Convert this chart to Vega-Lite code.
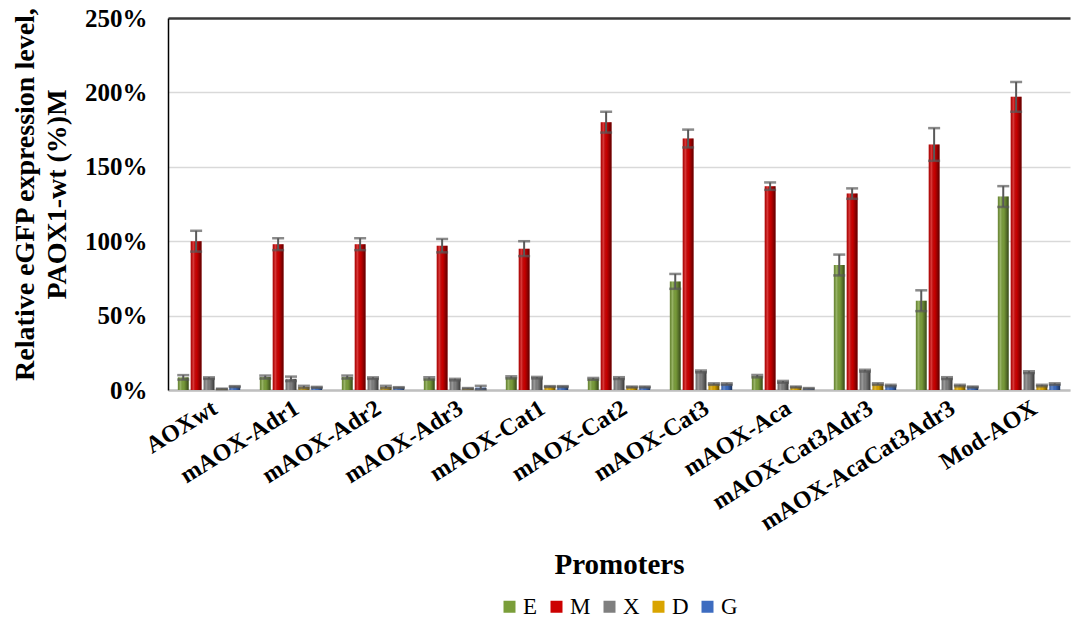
{
  "$schema": "https://vega.github.io/schema/vega-lite/v6.json",
  "autosize": {"type": "none"},
  "width": 902,
  "height": 372,
  "padding": {"left": 168, "top": 18, "right": 2, "bottom": 229},
  "background": "white",
  "config": {
    "view": {"stroke": null},
    "font": "Liberation Serif"
  },
  "data": {
    "values": [
      {"promoter": "AOXwt", "series": "E", "value": 8.5, "lo": 7.0, "hi": 10.0},
      {"promoter": "AOXwt", "series": "M", "value": 100, "lo": 93, "hi": 107},
      {"promoter": "AOXwt", "series": "X", "value": 8.0, "lo": 7.5, "hi": 8.5},
      {"promoter": "AOXwt", "series": "D", "value": 0.7, "lo": 0.5, "hi": 0.9},
      {"promoter": "AOXwt", "series": "G", "value": 2.3, "lo": 2.0, "hi": 2.6},

      {"promoter": "mAOX-Adr1", "series": "E", "value": 8.7, "lo": 7.7, "hi": 9.7},
      {"promoter": "mAOX-Adr1", "series": "M", "value": 98, "lo": 94, "hi": 102},
      {"promoter": "mAOX-Adr1", "series": "X", "value": 7.5, "lo": 6.0, "hi": 9.0},
      {"promoter": "mAOX-Adr1", "series": "D", "value": 2.0, "lo": 1.2, "hi": 2.8},
      {"promoter": "mAOX-Adr1", "series": "G", "value": 1.8, "lo": 1.5, "hi": 2.1},

      {"promoter": "mAOX-Adr2", "series": "E", "value": 8.7, "lo": 7.7, "hi": 9.7},
      {"promoter": "mAOX-Adr2", "series": "M", "value": 98, "lo": 94, "hi": 102},
      {"promoter": "mAOX-Adr2", "series": "X", "value": 8.0, "lo": 7.5, "hi": 8.5},
      {"promoter": "mAOX-Adr2", "series": "D", "value": 2.0, "lo": 1.2, "hi": 2.8},
      {"promoter": "mAOX-Adr2", "series": "G", "value": 1.6, "lo": 1.3, "hi": 1.9},

      {"promoter": "mAOX-Adr3", "series": "E", "value": 7.8, "lo": 7.1, "hi": 8.5},
      {"promoter": "mAOX-Adr3", "series": "M", "value": 97, "lo": 92.5, "hi": 101.5},
      {"promoter": "mAOX-Adr3", "series": "X", "value": 7.0, "lo": 6.5, "hi": 7.5},
      {"promoter": "mAOX-Adr3", "series": "D", "value": 1.0, "lo": 0.7, "hi": 1.3},
      {"promoter": "mAOX-Adr3", "series": "G", "value": 1.6, "lo": 0.4, "hi": 2.8},

      {"promoter": "mAOX-Cat1", "series": "E", "value": 8.5, "lo": 7.8, "hi": 9.2},
      {"promoter": "mAOX-Cat1", "series": "M", "value": 95, "lo": 90, "hi": 100},
      {"promoter": "mAOX-Cat1", "series": "X", "value": 8.3, "lo": 7.8, "hi": 8.8},
      {"promoter": "mAOX-Cat1", "series": "D", "value": 2.3, "lo": 2.0, "hi": 2.6},
      {"promoter": "mAOX-Cat1", "series": "G", "value": 2.3, "lo": 2.0, "hi": 2.6},

      {"promoter": "mAOX-Cat2", "series": "E", "value": 7.5, "lo": 6.9, "hi": 8.1},
      {"promoter": "mAOX-Cat2", "series": "M", "value": 180, "lo": 173, "hi": 187},
      {"promoter": "mAOX-Cat2", "series": "X", "value": 8.0, "lo": 7.4, "hi": 8.6},
      {"promoter": "mAOX-Cat2", "series": "D", "value": 2.0, "lo": 1.7, "hi": 2.3},
      {"promoter": "mAOX-Cat2", "series": "G", "value": 2.0, "lo": 1.7, "hi": 2.3},

      {"promoter": "mAOX-Cat3", "series": "E", "value": 73, "lo": 68, "hi": 78},
      {"promoter": "mAOX-Cat3", "series": "M", "value": 169, "lo": 163, "hi": 175},
      {"promoter": "mAOX-Cat3", "series": "X", "value": 12.5, "lo": 11.9, "hi": 13.1},
      {"promoter": "mAOX-Cat3", "series": "D", "value": 4.0, "lo": 3.5, "hi": 4.5},
      {"promoter": "mAOX-Cat3", "series": "G", "value": 4.0, "lo": 3.5, "hi": 4.5},

      {"promoter": "mAOX-Aca", "series": "E", "value": 9.3, "lo": 8.5, "hi": 10.1},
      {"promoter": "mAOX-Aca", "series": "M", "value": 137, "lo": 134.5, "hi": 139.5},
      {"promoter": "mAOX-Aca", "series": "X", "value": 5.5, "lo": 4.9, "hi": 6.1},
      {"promoter": "mAOX-Aca", "series": "D", "value": 2.0, "lo": 1.7, "hi": 2.3},
      {"promoter": "mAOX-Aca", "series": "G", "value": 1.0, "lo": 0.7, "hi": 1.3},

      {"promoter": "mAOX-Cat3Adr3", "series": "E", "value": 84, "lo": 77, "hi": 91},
      {"promoter": "mAOX-Cat3Adr3", "series": "M", "value": 132, "lo": 128.5, "hi": 135.5},
      {"promoter": "mAOX-Cat3Adr3", "series": "X", "value": 13.0, "lo": 12.4, "hi": 13.6},
      {"promoter": "mAOX-Cat3Adr3", "series": "D", "value": 4.0, "lo": 3.5, "hi": 4.5},
      {"promoter": "mAOX-Cat3Adr3", "series": "G", "value": 3.0, "lo": 2.5, "hi": 3.5},

      {"promoter": "mAOX-AcaCat3Adr3", "series": "E", "value": 60, "lo": 53, "hi": 67},
      {"promoter": "mAOX-AcaCat3Adr3", "series": "M", "value": 165, "lo": 154, "hi": 176},
      {"promoter": "mAOX-AcaCat3Adr3", "series": "X", "value": 8.0, "lo": 7.4, "hi": 8.6},
      {"promoter": "mAOX-AcaCat3Adr3", "series": "D", "value": 3.0, "lo": 2.5, "hi": 3.5},
      {"promoter": "mAOX-AcaCat3Adr3", "series": "G", "value": 2.0, "lo": 1.7, "hi": 2.3},

      {"promoter": "Mod-AOX", "series": "E", "value": 130, "lo": 123, "hi": 137},
      {"promoter": "Mod-AOX", "series": "M", "value": 197, "lo": 187, "hi": 207},
      {"promoter": "Mod-AOX", "series": "X", "value": 12.0, "lo": 11.4, "hi": 12.6},
      {"promoter": "Mod-AOX", "series": "D", "value": 3.0, "lo": 2.5, "hi": 3.5},
      {"promoter": "Mod-AOX", "series": "G", "value": 4.0, "lo": 3.5, "hi": 4.5}
    ]
  },
  "encoding": {
    "x": {
      "field": "promoter",
      "type": "nominal",
      "sort": null,
      "scale": {"paddingInner": 0.24, "paddingOuter": 0.12},
      "axis": {
        "title": "Promoters",
        "titleFont": "Liberation Serif",
        "titleFontSize": 29,
        "titleFontWeight": "bold",
        "titleColor": "black",
        "titlePadding": 16,
        "labelAngle": -32,
        "labelAlign": "right",
        "labelBaseline": "middle",
        "labelPadding": 16,
        "labelOffset": 6,
        "labelFont": "Liberation Serif",
        "labelFontSize": 24,
        "labelFontWeight": "bold",
        "labelColor": "black",
        "labelOverlap": false,
        "labelLimit": 400,
        "ticks": false,
        "domainColor": "#bfbfbf",
        "domainWidth": 2.5
      }
    },
    "xOffset": {
      "field": "series",
      "type": "nominal",
      "scale": {"domain": ["E", "M", "X", "D", "G"], "paddingInner": 0.16}
    }
  },
  "layer": [
    {
      "mark": {"type": "bar"},
      "encoding": {
        "y": {
          "field": "value",
          "type": "quantitative",
          "scale": {"domain": [0, 250], "nice": false},
          "axis": {
            "title": ["Relative eGFP expression level,", "PAOX1-wt (%)M"],
            "titleFont": "Liberation Serif",
            "titleFontSize": 28,
            "titleFontWeight": "bold",
            "titleColor": "black",
            "titleLineHeight": 32,
            "titleBaseline": "middle",
            "titleX": -143,
            "titleY": 176,
            "values": [0, 50, 100, 150, 200, 250],
            "labelExpr": "datum.value + '%'",
            "labelFont": "Liberation Serif",
            "labelFontSize": 25,
            "labelFontWeight": "bold",
            "labelColor": "black",
            "labelPadding": 21,
            "ticks": false,
            "domainColor": "black",
            "domainWidth": 1.5,
            "grid": true,
            "gridColor": {"condition": {"test": "datum.value === 250", "value": "#3a3a3a"}, "value": "#d9d9d9"},
            "gridWidth": {"condition": {"test": "datum.value === 250", "value": 2.5}, "value": 1.5}
          }
        },
        "color": {
          "field": "series",
          "type": "nominal",
          "scale": {
            "domain": ["E", "M", "X", "D", "G"],
            "range": ["#7a9e3a", "#cc0000", "#7f7f7f", "#d9a400", "#3d6cc0"]
          },
          "legend": {
            "title": null,
            "orient": "none",
            "direction": "horizontal",
            "legendX": 330,
            "legendY": 577,
            "symbolType": "square",
            "symbolSize": 144,
            "symbolStrokeWidth": 0,
            "symbolOpacity": 1,
            "labelFont": "Liberation Serif",
            "labelFontSize": 23,
            "labelColor": "black",
            "labelOffset": 2,
            "columnPadding": 7
          }
        }
      }
    },
    {
      "mark": {
        "type": "bar",
        "fill": {
          "gradient": "linear",
          "x1": 0, "x2": 1, "y1": 0, "y2": 0,
          "stops": [
            {"offset": 0, "color": "rgba(0,0,0,0.18)"},
            {"offset": 0.25, "color": "rgba(255,255,255,0.22)"},
            {"offset": 0.55, "color": "rgba(0,0,0,0.02)"},
            {"offset": 0.8, "color": "rgba(0,0,0,0.3)"},
            {"offset": 1, "color": "rgba(0,0,0,0.55)"}
          ]
        }
      },
      "encoding": {
        "y": {"field": "value", "type": "quantitative"}
      }
    },
    {
      "mark": {"type": "rule", "color": "#595959", "strokeWidth": 2},
      "encoding": {
        "y": {"field": "lo", "type": "quantitative"},
        "y2": {"field": "hi"}
      }
    },
    {
      "mark": {"type": "tick", "color": "#595959", "thickness": 2.5, "size": 12},
      "encoding": {
        "y": {"field": "lo", "type": "quantitative"}
      }
    },
    {
      "mark": {"type": "tick", "color": "#595959", "thickness": 2.5, "size": 12},
      "encoding": {
        "y": {"field": "hi", "type": "quantitative"}
      }
    }
  ]
}
